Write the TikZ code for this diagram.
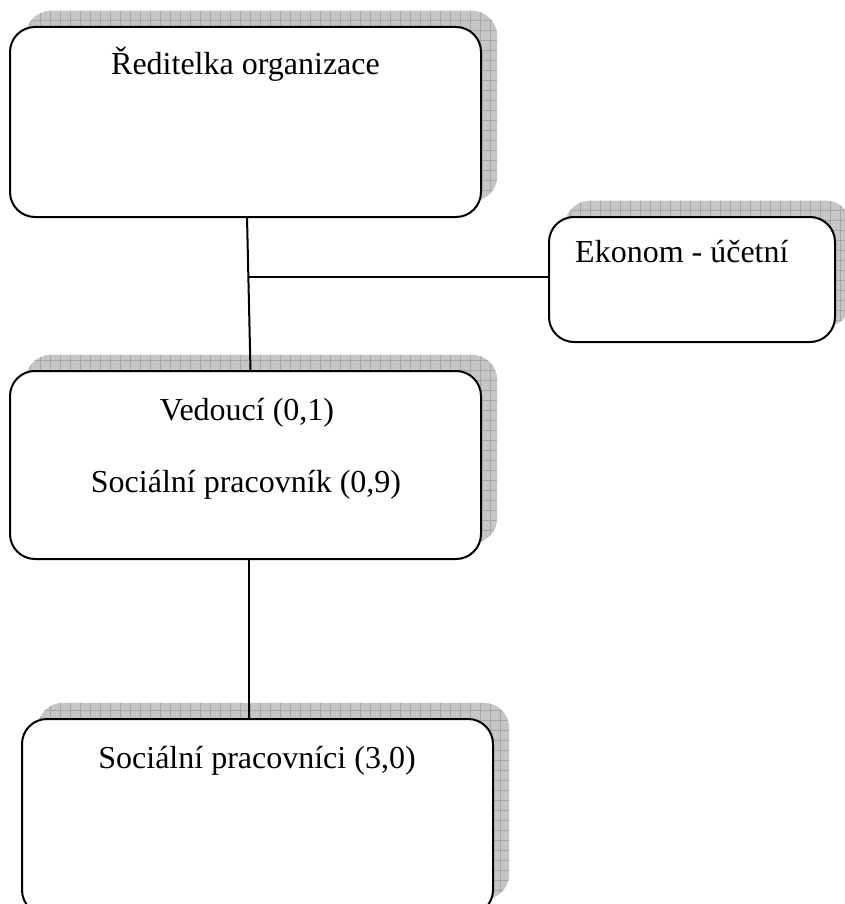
\documentclass[tikz,border=0pt]{standalone}
\usepackage{fontspec}
\setmainfont{Liberation Serif}
\usetikzlibrary{calc}

\tikzset{
  orgbox/.style={draw=black, line width=2, fill=white, rounded corners=25,
    inner sep=0, outer sep=0},
  orgtext/.style={font=\fontsize{32}{36}\selectfont, inner sep=0, anchor=base},
  orgline/.style={draw=black, line width=2},
  shadowfill/.style={fill=gray!45},
  shadowgrid/.style={draw=gray!70, line width=0.8}
}

% grid-patterned shadow behind a box node, shifted up and to the right
\newcommand{\gridshadow}[1]{%
  \begin{scope}
    \clip[rounded corners=25] ($(#1.north west)+(16,-16)$) rectangle ($(#1.south east)+(16,-16)$);
    \fill[shadowfill] (0,-20) rectangle (860,930);
    \foreach \gx in {0,10,...,860} {\draw[shadowgrid] (\gx,-20) -- (\gx,930);}
    \foreach \gy in {-20,-10,...,930} {\draw[shadowgrid] (0,\gy) -- (860,\gy);}
  \end{scope}}

\begin{document}
\begin{tikzpicture}[x=1pt, y=-1pt]
  \useasboundingbox (0,0) rectangle (845,904);
  \clip (0,0) rectangle (845,904);

  % box outlines (positions only, drawn after the shadows)
  \path (245.5,122)  node[minimum width=471, minimum height=190] (dir) {};
  \path (692,279.5)  node[minimum width=286, minimum height=125] (ekon) {};
  \path (245.5,465)  node[minimum width=471, minimum height=188] (ved) {};
  \path (257.5,817)  node[minimum width=471, minimum height=196] (soc) {};

  \gridshadow{dir}
  \gridshadow{ekon}
  \gridshadow{ved}
  \gridshadow{soc}

  % connectors
  \coordinate (j) at (249,277);
  \draw[orgline] ([xshift=1.5]dir.south) -- ([xshift=5]ved.north);
  \draw[orgline] (j) -- (j -| ekon.west);
  \draw[orgline] (ved.south -| j) -- (soc.north -| j);

  % boxes
  \node[orgbox, minimum width=471, minimum height=190] at (dir) {};
  \node[orgbox, minimum width=286, minimum height=125] at (ekon) {};
  \node[orgbox, minimum width=471, minimum height=188] at (ved) {};
  \node[orgbox, minimum width=471, minimum height=196] at (soc) {};

  % labels
  \node[orgtext] (tdir) at (245.5,75) {Ředitelka organizace};
  \node[orgtext, anchor=base west] (tekon) at (575,262) {Ekonom - účetní};
  \node[orgtext] (tved1) at (247,420) {Vedoucí (0,1)};
  \node[orgtext] (tved2) at (246,492) {Sociální pracovník (0,9)};
  \node[orgtext] (tsoc) at (257,768) {Sociální pracovníci (3,0)};
\end{tikzpicture}
\end{document}
